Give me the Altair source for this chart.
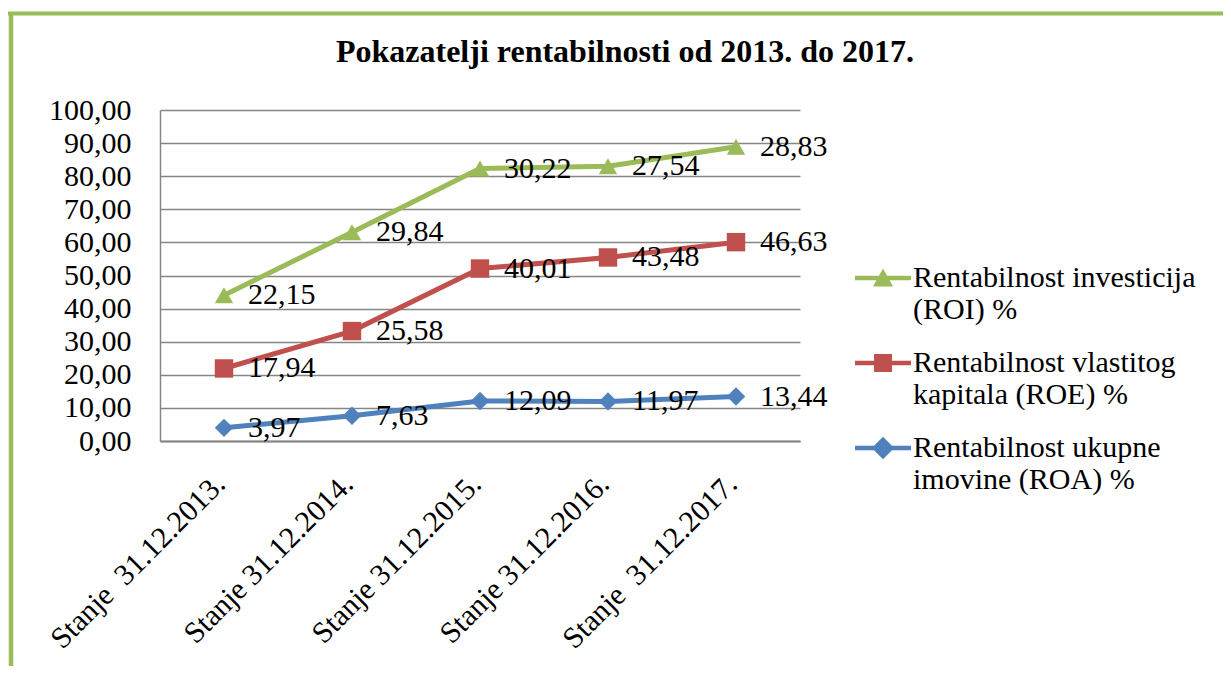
import altair as alt
import pandas as pd

categories = ["Stanje \u00a031.12.2013.", "Stanje 31.12.2014.", "Stanje 31.12.2015.",
              "Stanje 31.12.2016.", "Stanje \u00a031.12.2017."]
series = ["Rentabilnost investicija\n(ROI) %",
          "Rentabilnost vlastitog\nkapitala (ROE) %",
          "Rentabilnost ukupne\nimovine (ROA) %"]
roi = [22.15, 29.84, 30.22, 27.54, 28.83]
roe = [17.94, 25.58, 40.01, 43.48, 46.63]
roa = [3.97, 7.63, 12.09, 11.97, 13.44]
stack_order = [2, 1, 0]
colors = ["#9BBB59", "#C0504D", "#4F81BD"]
shapes = ["triangle-up", "square", "diamond"]
legend_paths = [
    "M-1,-0.08 L1,-0.08 L1,0.08 L-1,0.08 Z M0,-0.34 L0.36,0.3 L-0.36,0.3 Z",
    "M-1,-0.08 L1,-0.08 L1,0.08 L-1,0.08 Z M-0.32,-0.32 L0.32,-0.32 L0.32,0.32 L-0.32,0.32 Z",
    "M-1,-0.08 L1,-0.08 L1,0.08 L-1,0.08 Z M0,-0.4 L0.4,0 L0,0.4 L-0.4,0 Z",
]
y_ticks = [0, 10, 20, 30, 40, 50, 60, 70, 80, 90, 100]

rows = []
for s, vals, o in zip(series, [roi, roe, roa], stack_order):
    for c, v in zip(categories, vals):
        rows.append({"cat": c, "series": s, "value": v, "ord": o})
df = pd.DataFrame(rows)

FONT = "Tinos, FreeSerif, Liberation Serif, Times New Roman, serif"
GRID = "#868686"
FS = 30

color_scale = alt.Scale(domain=series, range=colors)
x_enc = alt.X("cat:N", sort=categories, title=None,
              axis=alt.Axis(labelAngle=-45, labelAlign="right", labelBaseline="middle",
                            labelFont=FONT, labelFontSize=FS, labelColor="black",
                            labelPadding=38, labelOffset=-4, ticks=False, labelLimit=500,
                            domainColor=GRID, domainWidth=2, grid=False))
y_enc = alt.Y("y1:Q", title=None,
              scale=alt.Scale(domain=[0, 100], nice=False),
              axis=alt.Axis(values=y_ticks, labelExpr="replace(format(datum.value, '.2f'), '.', ',')",
                            labelFont=FONT, labelFontSize=FS, labelColor="black",
                            labelPadding=29, ticks=False, domainColor=GRID, domainWidth=1.5,
                            gridColor=GRID, gridWidth=1.5))

base = alt.Chart(df).transform_stack(
    stack="value", groupby=["cat"], as_=["y0", "y1"], sort=[alt.SortField("ord", order="ascending")]
)

lines = base.mark_line(strokeWidth=5).encode(
    x=x_enc, y=y_enc,
    color=alt.Color("series:N", scale=color_scale, legend=None),
    detail="series:N",
)

points = base.mark_point(filled=True, size=340, opacity=1).encode(
    x=x_enc, y=y_enc,
    color=alt.Color("series:N", scale=color_scale, legend=None),
    shape=alt.Shape("series:N", scale=alt.Scale(domain=series, range=shapes), legend=None),
)

leg = alt.Legend(title=None, orient="none", legendX=695, legendY=140,
                 labelExpr="split(datum.label, '\\n')",
                 labelFont=FONT, labelFontSize=FS, labelColor="black",
                 symbolSize=3136, symbolStrokeWidth=0, symbolOpacity=1,
                 labelOffset=2, rowPadding=10, labelLimit=400)

legend_layer = base.transform_calculate(s2="datum.series").mark_point(
    filled=True, opacity=0, size=10).encode(
    x=x_enc, y=y_enc,
    color=alt.Color("s2:N", scale=alt.Scale(domain=series, range=colors), legend=leg),
    shape=alt.Shape("s2:N", scale=alt.Scale(domain=series, range=legend_paths), legend=leg),
)

labels = base.mark_text(align="left", baseline="middle", dx=24, font=FONT, fontSize=FS,
                        color="black").transform_calculate(
    lab="replace(format(datum.value, '.2f'), '.', ',')"
).encode(x=x_enc, y=y_enc, text="lab:N")

border_top = alt.Chart(alt.Data(values=[{}])).mark_rule(color="#9BBB59", strokeWidth=4).encode(
    x=alt.value(-152), x2=alt.value(1100), y=alt.value(-96.5))
border_left = alt.Chart(alt.Data(values=[{}])).mark_rule(color="#9BBB59", strokeWidth=4.5).encode(
    x=alt.value(-149), y=alt.value(-98), y2=alt.value(600))

chart = alt.layer(border_top, border_left, lines, points, legend_layer, labels).resolve_scale(
    color="independent", shape="independent"
).properties(
    width=640, height=331,
    title=alt.Title("Pokazatelji rentabilnosti od 2013. do 2017.", font="Liberation Serif", fontSize=32,
                    fontWeight="bold", color="black", anchor="middle", dx=145, offset=-59),
    autosize=alt.AutoSizeParams(type="none"),
    padding={"left": 152, "top": 102, "right": 423, "bottom": 225},
).configure(background="white", font=FONT).configure_view(stroke=None).configure_axis(
    labelFont=FONT).configure_legend(labelFont=FONT)

chart.save("out.html", embed_options={"renderer": "svg", "actions": False})
